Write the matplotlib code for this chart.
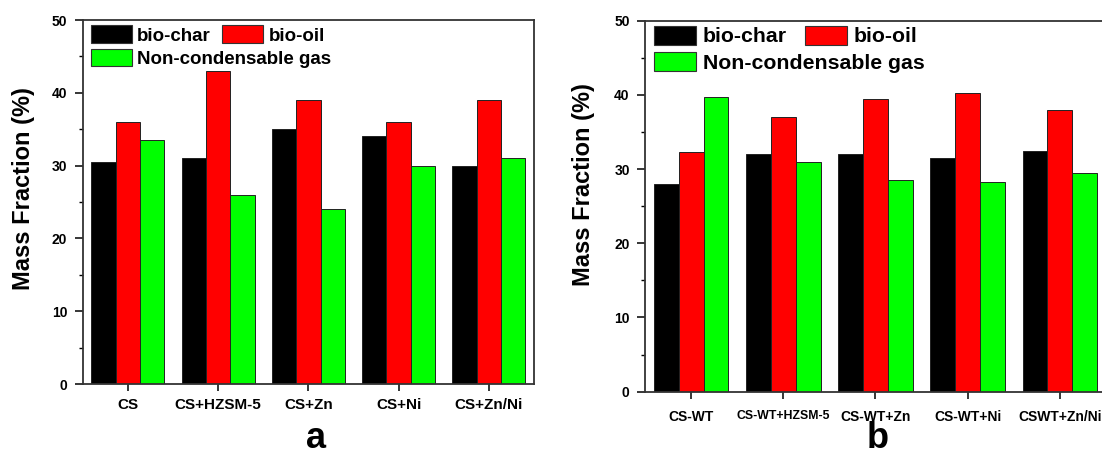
import matplotlib
matplotlib.use('Agg')
import matplotlib.pyplot as plt
from matplotlib.patches import Patch
from matplotlib.ticker import MultipleLocator
import numpy as np

plt.rcParams['font.family'] = ['Liberation Sans', 'DejaVu Sans']
plt.rcParams['font.weight'] = 'bold'

# data
series = ['bio-char', 'bio-oil', 'Non-condensable gas']
colors = ['#000000', '#ff0000', '#00ff00']

cats_a = ['CS', 'CS+HZSM-5', 'CS+Zn', 'CS+Ni', 'CS+Zn/Ni']
char_a = [30.5, 31.0, 35.0, 34.0, 30.0]
oil_a = [36.0, 43.0, 39.0, 36.0, 39.0]
gas_a = [33.5, 26.0, 24.0, 30.0, 31.0]

cats_b = ['CS-WT', 'CS-WT+HZSM-5', 'CS-WT+Zn', 'CS-WT+Ni', 'CSWT+Zn/Ni']
char_b = [28.0, 32.0, 32.0, 31.5, 32.5]
oil_b = [32.3, 37.0, 39.5, 40.2, 38.0]
gas_b = [39.7, 31.0, 28.5, 28.3, 29.5]

fig = plt.figure(figsize=(11.02, 4.57), dpi=100)
ax_a = fig.add_axes([0.075, 0.1597, 0.4096, 0.7965])
ax_b = fig.add_axes([0.5853, 0.1429, 0.4183, 0.8118])


def draw(ax, cats, vals, fs_tick, fs_leg, leg_cfg, xpad, ylab_xy):
    x = np.arange(len(cats))
    w = 0.27
    for i, v in enumerate(vals):
        ax.bar(x + (i - 1) * w, v, w, color=colors[i],
               edgecolor='#222222', linewidth=0.7)
    ax.set_xlim(-0.5, 4.5)
    ax.set_ylim(0, 50)
    ax.set_xticks(x)
    ax.set_xticklabels(cats, fontweight='bold')
    for lbl, fs in zip(ax.get_xticklabels(), fs_tick):
        lbl.set_fontsize(fs)
    ax.yaxis.set_major_locator(MultipleLocator(10))
    ax.yaxis.set_minor_locator(MultipleLocator(5))
    ax.tick_params(axis='y', which='major', direction='out', length=6,
                   width=1.1, labelsize=10, pad=5)
    ax.tick_params(axis='y', which='minor', direction='out', length=3,
                   width=1.0)
    ax.tick_params(axis='x', which='major', direction='out', length=5,
                   width=1.1, pad=xpad)
    for lbl in ax.get_yticklabels():
        lbl.set_fontweight('bold')
    for sp in ax.spines.values():
        sp.set_linewidth(1.3)
        sp.set_color('#333333')
    ax.set_ylabel('Mass Fraction (%)', fontsize=17, fontweight='bold')
    ax.yaxis.set_label_coords(*ylab_xy)

    hl, hh, htp, csp, x0, y1, y2 = leg_cfg
    kw = dict(loc='upper left', frameon=False, borderpad=0, borderaxespad=0,
              handlelength=hl, handleheight=hh, handletextpad=htp,
              prop={'size': fs_leg, 'weight': 'bold'})
    h = [Patch(facecolor=colors[i], edgecolor='#333333', linewidth=0.8)
         for i in range(3)]
    leg1 = ax.legend(h[:2], series[:2], ncol=2, columnspacing=csp,
                     bbox_to_anchor=(x0, y1), **kw)
    ax.add_artist(leg1)
    ax.legend(h[2:], series[2:], bbox_to_anchor=(x0, y2), **kw)


draw(ax_a, cats_a, [char_a, oil_a, gas_a], [11] * 5, 13.5,
     (2.18, 1.05, 0.31, 0.59, 0.0177, 0.985, 0.921), 5, (-0.105, 0.537))
draw(ax_b, cats_b, [char_b, oil_b, gas_b], [10, 8.8, 10, 10, 10], 15.3,
     (1.97, 1.0, 0.33, 0.85, 0.0195, 0.987, 0.916), 8, (-0.1085, 0.557))

fig.text(316 / 1102, 0.002, 'a', fontsize=26, fontweight='bold',
         ha='center', va='bottom')
fig.text(878 / 1102, 0.002, 'b', fontsize=26, fontweight='bold',
         ha='center', va='bottom')

fig.savefig('out.png', dpi=100)
